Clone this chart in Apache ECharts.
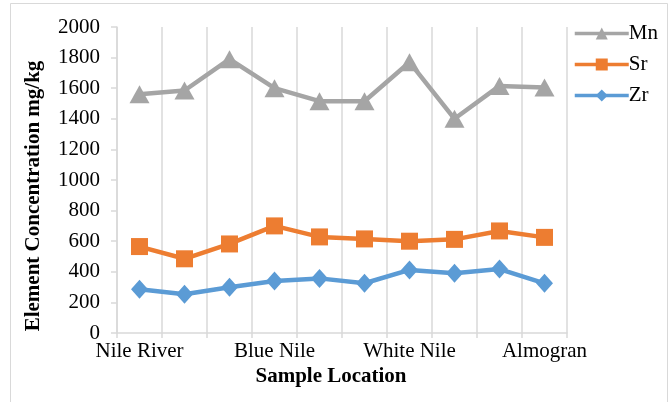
<!DOCTYPE html>
<html>
<head>
<meta charset="utf-8">
<script src="https://cdn.jsdelivr.net/npm/echarts@6/dist/echarts.min.js"></script>
<style>
  html, body { margin: 0; padding: 0; background: #fff; }
  #chart { width: 670px; height: 402px; }
</style>
</head>
<body>
<div id="chart"></div>
<script>
// Sampling sites along the Nile (three samples per reach, one at Almogran)
const locations = ['Nile River', 'Nile River', 'Nile River',
                   'Blue Nile', 'Blue Nile', 'Blue Nile',
                   'White Nile', 'White Nile', 'White Nile',
                   'Almogran'];

// Element concentrations, mg/kg
const mn = [1560, 1585, 1790, 1600, 1515, 1515, 1770, 1400, 1615, 1605];
const sr = [565, 485, 582, 700, 628, 615, 600, 612, 667, 625];
const zr = [286, 253, 299, 340, 357, 325, 412, 390, 418, 325];

const yTicks = { min: 0, max: 2000, step: 200 };

const FONT = '"Liberation Serif", "Times New Roman", serif';
const GRID_GRAY = '#d9d9d9';

const chart = echarts.init(document.getElementById('chart'), null, { renderer: 'canvas' });

function lineSeries(name, data, color, symbol, size) {
  return {
    name: name,
    type: 'line',
    data: data,
    symbol: symbol,
    symbolSize: size,
    showAllSymbol: true,
    lineStyle: { color: color, width: 4.5 },
    itemStyle: { color: color },
    emphasis: { disabled: true },
    z: 3
  };
}

chart.setOption({
  animation: false,
  backgroundColor: '#fff',
  textStyle: { fontFamily: FONT },
  grid: { left: 117, right: 103, top: 27, bottom: 69, containLabel: false },
  legend: {
    orient: 'vertical',
    left: 568,
    top: 18,
    itemWidth: 54,
    itemHeight: 15,
    itemGap: 10,
    lineStyle: { width: 3.5 },
    textStyle: { fontFamily: FONT, fontSize: 21, color: '#000', padding: [0, 0, 0, -5] },
    data: ['Mn', 'Sr', 'Zr']
  },
  xAxis: {
    type: 'category',
    data: locations,
    boundaryGap: true,
    axisLine: { lineStyle: { color: GRID_GRAY, width: 1.5 } },
    axisTick: { show: true, interval: 0, length: 5, lineStyle: { color: GRID_GRAY, width: 1.5 } },
    splitLine: { show: true, interval: 0, lineStyle: { color: GRID_GRAY, width: 1.5 } },
    axisLabel: { interval: 2, margin: 8, fontFamily: FONT, fontSize: 21, color: '#000' }
  },
  yAxis: {
    type: 'value',
    min: yTicks.min,
    max: yTicks.max,
    interval: yTicks.step,
    axisLine: { show: true, lineStyle: { color: GRID_GRAY, width: 1.5 } },
    axisTick: { show: true, length: 6, lineStyle: { color: GRID_GRAY, width: 1.5 } },
    splitLine: { show: false },
    axisLabel: {
      margin: 17, fontFamily: FONT, fontSize: 21, color: '#000',
      formatter: function (v) { return String(v); }
    }
  },
  graphic: [
    {
      type: 'rect',
      shape: { x: 10.5, y: 3.5, width: 657, height: 420 },
      style: { fill: null, stroke: GRID_GRAY, lineWidth: 1 },
      silent: true
    },
    {
      type: 'text',
      x: 34, y: 196,
      rotation: Math.PI / 2,
      style: {
        text: 'Element Concentration mg/kg',
        font: 'bold 21px ' + FONT,
        fill: '#000',
        align: 'center',
        verticalAlign: 'middle'
      }
    },
    {
      type: 'text',
      x: 331, y: 377,
      style: {
        text: 'Sample Location',
        font: 'bold 21px ' + FONT,
        fill: '#000',
        align: 'center',
        verticalAlign: 'middle'
      }
    }
  ],
  series: [
    lineSeries('Mn', mn, '#A5A5A5', 'triangle', [20, 18]),
    lineSeries('Sr', sr, '#ED7D31', 'rect', [17, 17]),
    lineSeries('Zr', zr, '#5B9BD5', 'diamond', [17, 19])
  ]
});
</script>
</body>
</html>
